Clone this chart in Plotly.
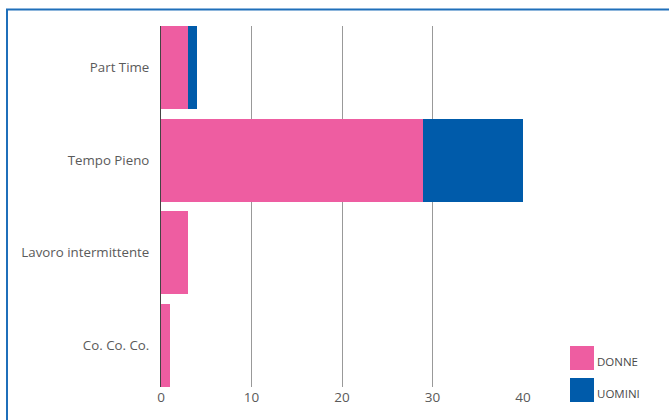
import plotly.graph_objects as go

categories = ["Part Time", "Tempo Pieno", "Lavoro intermittente", "Co. Co. Co."]
donne = [3, 29, 3, 1]
uomini = [1, 11, 0, 0]
x_ticks = [0, 10, 20, 30, 40]
series_names = ["DONNE", "UOMINI"]
colors = ["#EE5DA1", "#005BAA"]

W, H = 669, 420
ml, mr, mt, mb = 161, 146, 26, 33
pw, ph = W - ml - mr, H - mt - mb

fig = go.Figure()
for name, vals, col in zip(series_names, [donne, uomini], colors):
    fig.add_trace(go.Bar(y=categories, x=vals, orientation="h", name=name,
                         marker=dict(color=col, line=dict(width=0)), showlegend=False))

def px_x(p):
    return (p - ml) / pw

def px_y(p):
    return 1 - (p - mt) / ph

shapes = [
    dict(type="rect", xref="paper", yref="paper", x0=px_x(7), x1=px_x(700), y0=px_y(440), y1=px_y(9.5),
         line=dict(color="#1F6FBA", width=2), fillcolor="rgba(0,0,0,0)", layer="above"),
]
annotations = []
legend_tops = [346, 378]
for name, col, top in zip(series_names, colors, legend_tops):
    shapes.append(dict(type="rect", xref="paper", yref="paper", x0=px_x(570), x1=px_x(594),
                       y0=px_y(top + 24), y1=px_y(top), fillcolor=col, line=dict(width=0)))
    annotations.append(dict(xref="paper", yref="paper", x=px_x(595), y=px_y(top + 25),
                            text=name, showarrow=False, xanchor="left", yanchor="bottom",
                            font=dict(family="Open Sans", size=11.5, color="#4a4a4a")))

fig.update_layout(
    width=W, height=H, barmode="stack", bargap=0.1,
    margin=dict(l=ml, r=mr, t=mt, b=mb),
    paper_bgcolor="white", plot_bgcolor="white",
    font=dict(family="Open Sans", color="#5a5a5a"),
    shapes=shapes, annotations=annotations,
    xaxis=dict(range=[0, 40], tickvals=x_ticks, showgrid=True, gridcolor="#999", gridwidth=1,
               zeroline=False, showline=False, tickfont=dict(size=13.5, color="#5a5a5a"), ticks=""),
    yaxis=dict(categoryorder="array", categoryarray=categories[::-1], range=[-0.45, 3.45],
               showgrid=False, showline=True, linecolor="#444", linewidth=1,
               ticks="", ticklabelstandoff=8, tickfont=dict(size=13.3, color="#5a5a5a")),
)
fig.write_html("out.html", config={"displayModeBar": False},
               post_script="document.body.style.margin='0';document.body.style.overflow='hidden';")
